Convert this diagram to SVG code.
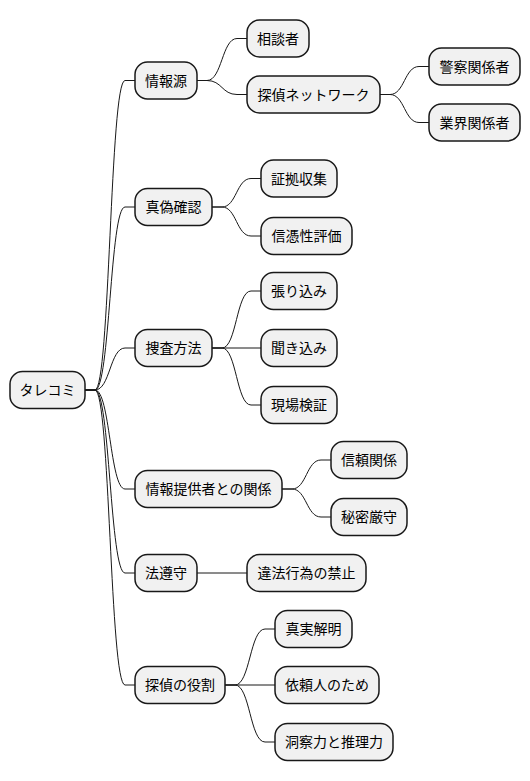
<svg xmlns="http://www.w3.org/2000/svg" width="530" height="781" viewBox="0 0 530 781">
<style>
.n rect{fill:#F1F1F1;stroke:#181818;stroke-width:1.5}
.n text{font-family:"Noto Sans CJK JP","Noto Sans",sans-serif;font-size:14px;fill:#000;text-anchor:middle}
#edges path{fill:none;stroke:#181818;stroke-width:1}
</style>
<rect width="530" height="781" fill="#FFFFFF"/>
<g id="edges">
<path d="M85,390 L95,390 C110,390 110,80.5 125,80.5 L135,80.5"/>
<path d="M85,390 L95,390 C110,390 110,207 125,207 L135,207"/>
<path d="M85,390 L95,390 C110,390 110,348 125,348 L135,348"/>
<path d="M85,390 L95,390 C110,390 110,489 125,489 L135,489"/>
<path d="M85,390 L95,390 C110,390 110,573 125,573 L135,573"/>
<path d="M85,390 L95,390 C110,390 110,685 125,685 L135,685"/>
<path d="M197,80.5 L207,80.5 C222,80.5 222,38.5 237,38.5 L247,38.5"/>
<path d="M197,80.5 L207,80.5 C222,80.5 222,94.5 237,94.5 L247,94.5"/>
<path d="M380,94.5 L390,94.5 C404.5,94.5 404.5,66.5 419,66.5 L429,66.5"/>
<path d="M380,94.5 L390,94.5 C404.5,94.5 404.5,122.5 419,122.5 L429,122.5"/>
<path d="M212,207 L222,207 C236.5,207 236.5,178.5 251,178.5 L261,178.5"/>
<path d="M212,207 L222,207 C236.5,207 236.5,236 251,236 L261,236"/>
<path d="M212,348 L222,348 C236.5,348 236.5,291 251,291 L261,291"/>
<path d="M212,348 L261,348"/>
<path d="M212,348 L222,348 C236.5,348 236.5,405 251,405 L261,405"/>
<path d="M282,489 L292,489 C306.5,489 306.5,460 321,460 L331,460"/>
<path d="M282,489 L292,489 C306.5,489 306.5,517 321,517 L331,517"/>
<path d="M197,573 L247,573"/>
<path d="M225,685 L235,685 C250,685 250,629 265,629 L275,629"/>
<path d="M225,685 L275,685"/>
<path d="M225,685 L235,685 C250,685 250,742 265,742 L275,742"/>
</g>
<g id="root" class="n"><rect x="10" y="371.5" width="75" height="37" rx="12.5"/><text x="47.5" y="395">タレコミ</text></g>
<g id="n1" class="n"><rect x="135" y="62" width="62" height="37" rx="12.5"/><text x="166" y="85.5">情報源</text></g>
<g id="n1a" class="n"><rect x="247" y="20" width="62" height="37" rx="12.5"/><text x="278" y="43.5">相談者</text></g>
<g id="n1b" class="n"><rect x="247" y="76" width="133" height="37" rx="12.5"/><text x="313.5" y="99.5">探偵ネットワーク</text></g>
<g id="n1b1" class="n"><rect x="429" y="48" width="91" height="37" rx="12.5"/><text x="474.5" y="71.5">警察関係者</text></g>
<g id="n1b2" class="n"><rect x="429" y="104" width="91" height="37" rx="12.5"/><text x="474.5" y="127.5">業界関係者</text></g>
<g id="n2" class="n"><rect x="135" y="188.5" width="77" height="37" rx="12.5"/><text x="173.5" y="212">真偽確認</text></g>
<g id="n2a" class="n"><rect x="261" y="160" width="76" height="37" rx="12.5"/><text x="299" y="183.5">証拠収集</text></g>
<g id="n2b" class="n"><rect x="261" y="217.5" width="91" height="37" rx="12.5"/><text x="306.5" y="241">信憑性評価</text></g>
<g id="n3" class="n"><rect x="135" y="329.5" width="77" height="37" rx="12.5"/><text x="173.5" y="353">捜査方法</text></g>
<g id="n3a" class="n"><rect x="261" y="272.5" width="76" height="37" rx="12.5"/><text x="299" y="296">張り込み</text></g>
<g id="n3b" class="n"><rect x="261" y="329.5" width="76" height="37" rx="12.5"/><text x="299" y="353">聞き込み</text></g>
<g id="n3c" class="n"><rect x="261" y="386.5" width="76" height="37" rx="12.5"/><text x="299" y="410">現場検証</text></g>
<g id="n4" class="n"><rect x="135" y="470.5" width="147" height="37" rx="12.5"/><text x="208.5" y="494">情報提供者との関係</text></g>
<g id="n4a" class="n"><rect x="331" y="441.5" width="76" height="37" rx="12.5"/><text x="369" y="465">信頼関係</text></g>
<g id="n4b" class="n"><rect x="331" y="498.5" width="76" height="37" rx="12.5"/><text x="369" y="522">秘密厳守</text></g>
<g id="n5" class="n"><rect x="135" y="554.5" width="62" height="37" rx="12.5"/><text x="166" y="578">法遵守</text></g>
<g id="n5a" class="n"><rect x="247" y="554.5" width="119" height="37" rx="12.5"/><text x="306.5" y="578">違法行為の禁止</text></g>
<g id="n6" class="n"><rect x="135" y="666.5" width="90" height="37" rx="12.5"/><text x="180" y="690">探偵の役割</text></g>
<g id="n6a" class="n"><rect x="275" y="610.5" width="77" height="37" rx="12.5"/><text x="313.5" y="634">真実解明</text></g>
<g id="n6b" class="n"><rect x="275" y="666.5" width="104" height="37" rx="12.5"/><text x="327" y="690">依頼人のため</text></g>
<g id="n6c" class="n"><rect x="275" y="723.5" width="118" height="37" rx="12.5"/><text x="334" y="747">洞察力と推理力</text></g>
</svg>
